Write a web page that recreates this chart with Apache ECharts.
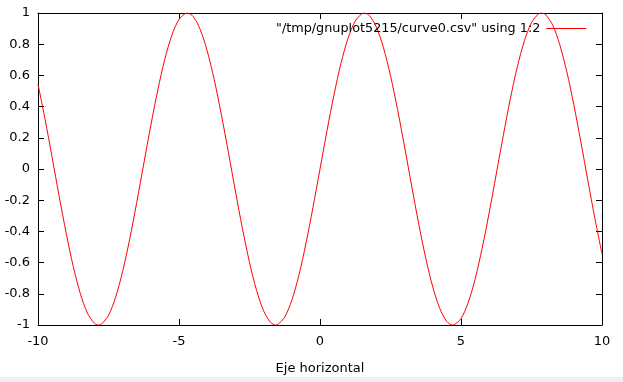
<!DOCTYPE html>
<html><head><meta charset="utf-8">
<script src="https://cdn.jsdelivr.net/npm/echarts@6/dist/echarts.min.js"></script>
<style>html,body{margin:0;padding:0;background:#fff;overflow:hidden}#c{width:623px;height:382px}</style>
</head><body><div id="c"></div>
<script>
// values
var xs = [-10,-9.75,-9.5,-9.25,-9,-8.75,-8.5,-8.25,-8,-7.85,-7.75,-7.5,-7.25,-7,-6.75,-6.5,-6.25,-6,-5.75,-5.5,-5.25,-5,-4.75,-4.71,-4.5,-4.25,-4,-3.75,-3.5,-3.25,-3,-2.75,-2.5,-2.25,-2,-1.75,-1.57,-1.5,-1.25,-1,-0.75,-0.5,-0.25,0,
  0.25,0.5,0.75,1,1.25,1.5,1.57,1.75,2,2.25,2.5,2.75,3,3.25,3.5,3.75,4,4.25,4.5,4.71,4.75,5,5.25,5.5,5.75,6,6.25,6.5,6.75,7,7.25,7.5,7.75,7.85,8,8.25,8.5,8.75,9,9.25,9.5,9.75,10];
var ys = [0.544,0.319,0.075,-0.174,-0.412,-0.625,-0.798,-0.923,-0.989,-1.0,-0.995,-0.938,-0.823,-0.657,-0.451,-0.215,0.033,0.279,0.508,0.706,0.859,0.959,0.999,1.0,0.978,0.895,0.757,0.572,0.351,0.108,-0.141,-0.382,-0.598,-0.778,-0.909,-0.984,-1.0,-0.997,-0.949,-0.841,-0.682,-0.479,-0.247,0,
  0.247,0.479,0.682,0.841,0.949,0.997,1.0,0.984,0.909,0.778,0.598,0.382,0.141,-0.108,-0.351,-0.572,-0.757,-0.895,-0.978,-1.0,-0.999,-0.959,-0.859,-0.706,-0.508,-0.279,-0.033,0.215,0.451,0.657,0.823,0.938,0.995,1.0,0.989,0.923,0.798,0.625,0.412,0.174,-0.075,-0.319,-0.544];
var seriesName = '"/tmp/gnuplot5215/curve0.csv" using 1:2';
var xTitle = 'Eje horizontal';

var data = xs.map(function(x,i){return [x, ys[i]];});
var font = 'DejaVu Sans';
var lineStyle = {color:'#000', width:1};
function fmt(v){ return (Math.round(v*10)/10).toString(); }
var chart = echarts.init(document.getElementById('c'), null, {renderer:'canvas', width:623, height:382});
chart.setOption({
  animation:false,
  textStyle:{fontFamily:font},
  grid:{left:38, top:13, width:564, height:312, containLabel:false},
  legend:{
    left:276, top:22, padding:0, align:'right', itemWidth:40, itemHeight:1, itemGap:0,
    icon:'rect', itemStyle:{color:'#ff0000'},
    textStyle:{fontFamily:font, fontSize:12.8, color:'#000', padding:[0,1,0,0]},
    data:[seriesName]
  },
  xAxis:[{
    type:'value', min:-10, max:10, interval:5, position:'bottom',
    name:xTitle, nameLocation:'middle', nameGap:37,
    nameTextStyle:{fontFamily:font, fontSize:13, color:'#000'},
    axisLine:{show:true, onZero:false, lineStyle:lineStyle},
    axisTick:{show:true, inside:true, length:6, lineStyle:lineStyle},
    axisLabel:{fontFamily:font, fontSize:13, color:'#000', margin:10},
    splitLine:{show:false}
  },{
    type:'value', min:-10, max:10, interval:5, position:'top',
    axisLine:{show:true, onZero:false, lineStyle:lineStyle},
    axisTick:{show:true, inside:true, length:6, lineStyle:lineStyle},
    axisLabel:{show:false}, splitLine:{show:false}
  }],
  yAxis:[{
    type:'value', min:-1, max:1, interval:0.2, position:'left',
    axisLine:{show:true, onZero:false, lineStyle:lineStyle},
    axisTick:{show:true, inside:true, length:6, lineStyle:lineStyle},
    axisLabel:{fontFamily:font, fontSize:13, color:'#000', margin:8, formatter:fmt},
    splitLine:{show:false}
  },{
    type:'value', min:-1, max:1, interval:0.2, position:'right',
    axisLine:{show:true, onZero:false, lineStyle:lineStyle},
    axisTick:{show:true, inside:true, length:6, lineStyle:lineStyle},
    axisLabel:{show:false}, splitLine:{show:false}
  }],
  series:[{
    name:seriesName, type:'line', data:data, smooth:0.3, showSymbol:false,
    symbol:'none', color:'#ff0000',
    lineStyle:{color:'#ff0000', width:1}
  }],
  graphic:[{type:'rect', left:0, top:377, shape:{width:623, height:5}, style:{fill:'#f0f0f0'}, silent:true}]
});
</script></body></html>
